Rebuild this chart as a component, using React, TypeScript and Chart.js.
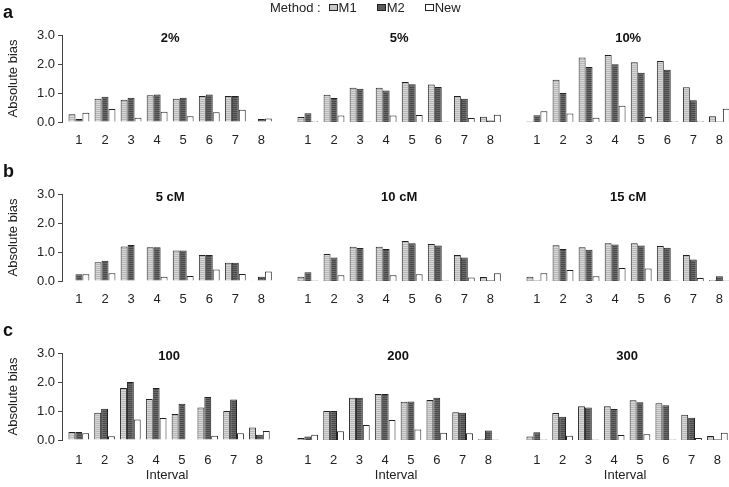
import React, { useEffect, useRef } from 'react';
import { Chart, registerables } from 'chart.js';
Chart.register(...registerables);

const intervals = [1, 2, 3, 4, 5, 6, 7, 8];
const yTickValues = [0, 1, 2, 3];
const methods = ['M1', 'M2', 'New'];
const rowLetters = ['a', 'b', 'c'];
const panelTitles = ['2%', '5%', '10%', '5 cM', '10 cM', '15 cM', '100', '200', '300'];

// Row a: marker density
const m1_2pct = [0.27, 0.8, 0.77, 0.92, 0.8, 0.9, 0.9, 0.03];
const m2_2pct = [0.1, 0.87, 0.84, 0.95, 0.84, 0.95, 0.9, 0.1];
const new_2pct = [0.32, 0.45, 0.15, 0.35, 0.2, 0.34, 0.42, 0.12];

const m1_5pct = [0.17, 0.94, 1.18, 1.18, 1.38, 1.29, 0.9, 0.18];
const m2_5pct = [0.3, 0.83, 1.15, 1.09, 1.3, 1.21, 0.8, 0.05];
const new_5pct = [0.03, 0.22, 0.02, 0.22, 0.24, 0.02, 0.14, 0.25];

const m1_10pct = [0.02, 1.46, 2.22, 2.31, 2.06, 2.1, 1.2, 0.2];
const m2_10pct = [0.23, 1.0, 1.9, 1.99, 1.7, 1.8, 0.75, 0.02];
const new_10pct = [0.37, 0.29, 0.15, 0.56, 0.17, 0.03, 0.03, 0.46];

// Row b: interval length
const m1_5cM = [0.02, 0.65, 1.19, 1.16, 1.05, 0.9, 0.63, 0.03];
const m2_5cM = [0.23, 0.7, 1.24, 1.16, 1.05, 0.9, 0.63, 0.15];
const new_5cM = [0.23, 0.27, 0.03, 0.15, 0.17, 0.4, 0.24, 0.33];

const m1_10cM = [0.15, 0.93, 1.18, 1.18, 1.38, 1.28, 0.9, 0.14];
const m2_10cM = [0.3, 0.81, 1.14, 1.1, 1.3, 1.22, 0.81, 0.03];
const new_10cM = [0.02, 0.2, 0.02, 0.2, 0.23, 0.02, 0.12, 0.27];

const m1_15cM = [0.15, 1.23, 1.16, 1.3, 1.3, 1.21, 0.9, 0.03];
const m2_15cM = [0.02, 1.1, 1.08, 1.26, 1.22, 1.15, 0.74, 0.16];
const new_15cM = [0.27, 0.38, 0.16, 0.45, 0.43, 0.02, 0.1, 0.02];

// Row c: sample size
const m1_100 = [0.28, 0.94, 1.79, 1.41, 0.9, 1.12, 1.0, 0.43];
const m2_100 = [0.28, 1.08, 2.0, 1.79, 1.25, 1.48, 1.4, 0.18];
const new_100 = [0.23, 0.13, 0.71, 0.76, 0.03, 0.15, 0.23, 0.31];

const m1_200 = [0.07, 1.0, 1.46, 1.59, 1.32, 1.38, 0.96, 0.03];
const m2_200 = [0.12, 1.0, 1.46, 1.59, 1.33, 1.46, 0.94, 0.33];
const new_200 = [0.18, 0.3, 0.52, 0.69, 0.36, 0.25, 0.23, 0.02];

const m1_300 = [0.12, 0.93, 1.16, 1.16, 1.37, 1.27, 0.87, 0.14];
const m2_300 = [0.27, 0.8, 1.12, 1.07, 1.3, 1.2, 0.77, 0.03];
const new_300 = [0.02, 0.15, 0.02, 0.17, 0.2, 0.02, 0.07, 0.25];

const panelSeries = [
  [m1_2pct, m2_2pct, new_2pct],
  [m1_5pct, m2_5pct, new_5pct],
  [m1_10pct, m2_10pct, new_10pct],
  [m1_5cM, m2_5cM, new_5cM],
  [m1_10cM, m2_10cM, new_10cM],
  [m1_15cM, m2_15cM, new_15cM],
  [m1_100, m2_100, new_100],
  [m1_200, m2_200, new_200],
  [m1_300, m2_300, new_300],
];

const FONT = "'Liberation Sans', Arial, Helvetica, sans-serif";
const COL_STEP = 229;
const ROW_STEP = 159;
const PLOT_TOP = 35;
const PLOT_H = 87;
const PAD_TOP = 15;
const AXIS_W = 62;
const CANVAS_W = 276;

function makePattern(a: string, b: string) {
  const c = document.createElement('canvas');
  c.width = 2;
  c.height = 2;
  const g = c.getContext('2d')!;
  g.fillStyle = a;
  g.fillRect(0, 0, 2, 1);
  g.fillStyle = b;
  g.fillRect(0, 1, 2, 1);
  return g.createPattern(c, 'repeat');
}

function Panel({ index }: { index: number }) {
  const ref = useRef<HTMLCanvasElement>(null);
  const row = Math.floor(index / 3);
  const col = index % 3;
  const xh = row === 2 ? 47 : 30;
  const height = PAD_TOP + PLOT_H + xh;

  useEffect(() => {
    const fills = [
      makePattern('#d8d8d8', '#b8b8b8'),
      makePattern('#6a6a6a', '#4a4a4a'),
      '#ffffff',
    ];
    const series = panelSeries[index];
    const title = panelTitles[index];
    const titlePlugin = {
      id: 'panelTitle',
      afterDraw(chart: any) {
        const ctx = chart.ctx;
        const xs = chart.scales.x;
        ctx.save();
        ctx.font = `bold 13px ${FONT}`;
        ctx.fillStyle = '#111';
        ctx.textAlign = 'center';
        ctx.textBaseline = 'middle';
        ctx.fillText(title, xs.getPixelForValue(4.5), chart.chartArea.top + 3);
        ctx.restore();
      },
    };
    const chart = new Chart(ref.current!, {
      type: 'bar',
      data: {
        datasets: methods.map((m, i) => ({
          label: m,
          data: intervals.map((x, j) => ({ x, y: series[i][j] })),
          backgroundColor: fills[i] as any,
          borderColor: '#222',
          borderWidth: 1,
          categoryPercentage: 0.8,
          barPercentage: 1,
        })),
      },
      options: {
        responsive: false,
        animation: false,
        devicePixelRatio: 1,
        layout: { padding: { top: PAD_TOP, left: 0, right: 0, bottom: 0 } },
        plugins: { legend: { display: false }, tooltip: { enabled: false }, title: { display: false } },
        scales: {
          x: {
            type: 'linear',
            offset: false,
            min: 0.35,
            max: 8.5,
            grid: { display: false, drawTicks: false, offset: false },
            border: { display: false },
            afterBuildTicks: (s: any) => {
              s.ticks = intervals.map((v) => ({ value: v }));
            },
            afterFit: (s: any) => {
              s.height = xh;
            },
            ticks: {
              color: '#222',
              font: { size: 13, family: FONT },
              padding: row === 2 ? 13 : 11,
              autoSkip: false,
              maxRotation: 0,
              callback: (v: any) => String(v),
            },
            title: {
              display: row === 2,
              text: 'Interval',
              color: '#222',
              font: { size: 13, family: FONT },
              padding: { top: 4, bottom: 4 },
            },
          },
          y: {
            min: 0,
            max: 3,
            afterBuildTicks: (s: any) => {
              s.ticks = yTickValues.map((v) => ({ value: v }));
            },
            afterFit: (s: any) => {
              s.width = AXIS_W;
            },
            ticks: {
              display: col === 0,
              color: '#222',
              font: { size: 13, family: FONT },
              padding: 3,
              callback: (v: any) => Number(v).toFixed(1),
            },
            grid: { display: col === 0, drawOnChartArea: false, tickLength: 4, color: '#444' },
            border: { display: col === 0, color: '#444' },
            title: {
              display: col === 0,
              text: 'Absolute bias',
              color: '#222',
              font: { size: 13, family: FONT },
              padding: { top: 6, bottom: 0 },
            },
          },
        },
      },
      plugins: [titlePlugin],
    } as any);
    return () => chart.destroy();
  }, [index]);

  return (
    <canvas
      ref={ref}
      width={CANVAS_W}
      height={height}
      style={{
        position: 'absolute',
        left: col * COL_STEP,
        top: row * ROW_STEP + PLOT_TOP - PAD_TOP,
        width: CANVAS_W,
        height,
      }}
    />
  );
}

function LegendBox({ fill }: { fill: string }) {
  return (
    <span
      style={{
        display: 'inline-block',
        width: 7,
        height: 5,
        border: '1px solid #222',
        background: fill,
        marginRight: 1,
        verticalAlign: 'middle',
        position: 'relative',
        top: -1,
      }}
    />
  );
}

export default function App() {
  return (
    <div
      style={{
        position: 'absolute',
        left: 0,
        top: 0,
        width: 729,
        height: 487,
        overflow: 'hidden',
        background: '#fff',
        fontFamily: FONT,
      }}
    >
      {panelTitles.map((_, i) => (
        <Panel key={i} index={i} />
      ))}
      {rowLetters.map((l, r) => (
        <div
          key={l}
          style={{
            position: 'absolute',
            left: 3,
            top: r * ROW_STEP + 2,
            fontSize: 18,
            fontWeight: 'bold',
            color: '#111',
            lineHeight: '20px',
          }}
        >
          {l}
        </div>
      ))}
      <div
        style={{
          position: 'absolute',
          left: 270,
          top: 0,
          fontSize: 13,
          color: '#222',
          lineHeight: '16px',
          whiteSpace: 'nowrap',
        }}
      >
        <span style={{ marginRight: 8 }}>Method :</span>
        <LegendBox fill="#c8c8c8" />
        <span style={{ marginRight: 20 }}>M1</span>
        <LegendBox fill="#5a5a5a" />
        <span style={{ marginRight: 20 }}>M2</span>
        <LegendBox fill="#ffffff" />
        <span>New</span>
      </div>
    </div>
  );
}
